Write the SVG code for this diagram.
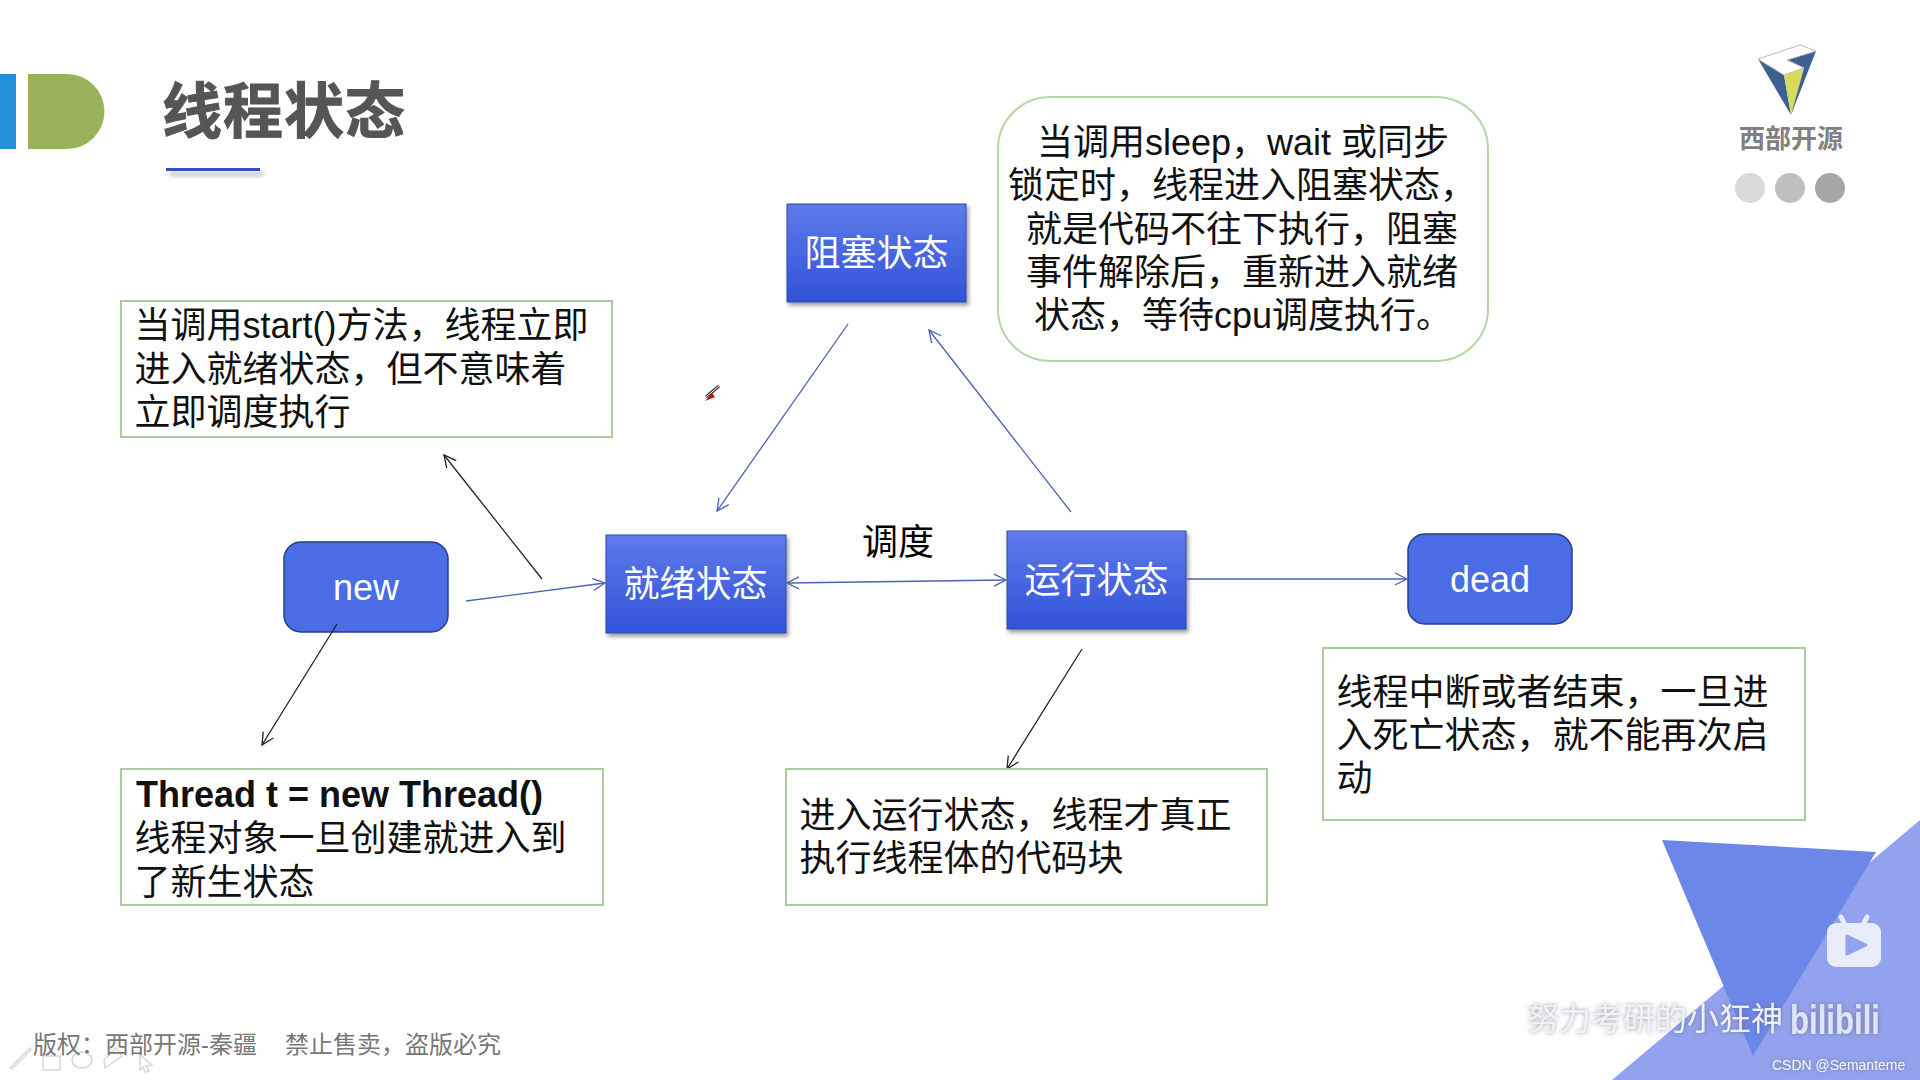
<svg xmlns="http://www.w3.org/2000/svg" width="1920" height="1080" viewBox="0 0 1920 1080">
<style>
text{font-family:"Liberation Sans","Noto Sans CJK SC",sans-serif}
.t{font-size:36px;fill:#111}
.w{font-size:36px;fill:#fff;text-anchor:middle}
.note{fill:#fff;stroke:#aacba0;stroke-width:2}
.box{fill:url(#g);stroke:#2f4aa8;stroke-width:1;filter:url(#s)}
.pill{fill:#4a6ce4;stroke:#233f85;stroke-width:1.5}
.c{fill:none;stroke:#4a62b0;stroke-width:1.3}
.k{fill:none;stroke:#222;stroke-width:1.3}
.i{fill:none;stroke:#d8d8d8;stroke-width:1.5}
</style>
<defs>
<linearGradient id="g" x1="0" y1="0" x2="0" y2="1"><stop offset="0" stop-color="#5f7aea"/><stop offset="1" stop-color="#3053d8"/></linearGradient>
<filter id="s" x="-10%" y="-10%" width="125%" height="125%"><feDropShadow dx="2" dy="3" stdDeviation="2" flood-color="#000" flood-opacity=".4"/></filter>
<filter id="b" x="-10%" y="-200%" width="120%" height="500%"><feGaussianBlur stdDeviation="2"/></filter>
<filter id="ws" x="-10%" y="-30%" width="120%" height="160%"><feDropShadow dx="0" dy="0" stdDeviation="2" flood-color="#555" flood-opacity=".6"/></filter>
<marker id="a" markerWidth="16" markerHeight="16" refX="13" refY="7" orient="auto" markerUnits="userSpaceOnUse"><path d="M1 1L13 7L1 13" fill="none" stroke="#4a62b0" stroke-width="1.3"/></marker>
<marker id="as" markerWidth="16" markerHeight="16" refX="13" refY="7" orient="auto-start-reverse" markerUnits="userSpaceOnUse"><path d="M1 1L13 7L1 13" fill="none" stroke="#4a62b0" stroke-width="1.3"/></marker>
<marker id="ak" markerWidth="16" markerHeight="16" refX="13" refY="7" orient="auto" markerUnits="userSpaceOnUse"><path d="M1 1L13 7L1 13" fill="none" stroke="#222" stroke-width="1.3"/></marker>
</defs>
<rect width="1920" height="1080" fill="#fff"/>

<g id="decor">
<rect x="0" y="74" width="16" height="75" fill="#2490dc"/>
<path d="M28 74H67A37.500 37.500 0 0 1 67 149H28Z" fill="#9bb25c"/>
<rect x="170" y="172" width="94" height="4" fill="#999" opacity=".6" filter="url(#b)"/>
<rect x="166" y="168" width="94" height="3" fill="#2f4fc4"/>
<text x="162" y="133" font-size="60" font-weight="700" style="fill:#555;stroke:#555;stroke-width:1;letter-spacing:1px">线程状态</text>
</g>

<g id="logo">
<path d="M1758 59L1784 75L1791 115Z" fill="#3f5f92"/>
<path d="M1784 75L1804 68L1791 115Z" fill="#d6db5a"/>
<path d="M1816 51L1787 60L1804 68L1791 115Z" fill="#3f5f92"/>
<path d="M1758 59L1800 45L1816 51L1787 60L1804 68L1784 75Z" fill="#fff" stroke="#bbb" stroke-width="1"/>
<text x="1791" y="148" font-size="26" font-weight="700" text-anchor="middle" style="fill:#808080">西部开源</text>
<circle cx="1750" cy="188" r="15" fill="#d9d9d9"/>
<circle cx="1790" cy="188" r="15" fill="#bfbfbf"/>
<circle cx="1830" cy="188" r="15" fill="#a6a6a6"/>
</g>

<g id="watermark-bg">
<path d="M1920 820L1612 1080H1920Z" fill="#93a2ee"/>
<path d="M1662 840L1876 852L1753 1056Z" fill="#6d87e8"/>
<path d="M1827 932a9 9 0 0 1 9-9h36a9 9 0 0 1 9 9v26a9 9 0 0 1-9 9h-36a9 9 0 0 1-9-9Z" fill="#e9ecfb"/>
<path d="M1844 923L1841 917M1864 923L1867 917" stroke="#e9ecfb" stroke-width="5" stroke-linecap="round"/>
<path d="M1847 936L1866 945L1847 954Z" fill="#93a2ee" stroke="#93a2ee" stroke-width="3" stroke-linejoin="round"/>
</g>

<g id="blocked"><rect class="box" x="787" y="204" width="179" height="98"/><text class="w" x="876.500" y="266">阻塞状态</text></g>
<g id="ready"><rect class="box" x="606" y="535" width="180" height="98"/><text class="w" x="695.500" y="597">就绪状态</text></g>
<g id="running"><rect class="box" x="1007" y="531" width="179" height="98"/><text class="w" x="1096.500" y="593">运行状态</text></g>
<g id="new"><rect class="pill" x="284" y="542" width="164" height="90" rx="17"/><text class="w" x="366" y="600">new</text></g>
<g id="dead"><rect class="pill" x="1408" y="534" width="164" height="90" rx="17"/><text class="w" x="1490" y="592">dead</text></g>

<g id="connectors">
<path class="c" d="M466 601L605 583" marker-end="url(#a)"/>
<path class="c" d="M787 583L1006 580" marker-start="url(#as)" marker-end="url(#a)"/>
<path class="c" d="M1187 579L1407 579" marker-end="url(#a)"/>
<path class="c" d="M848 324L717 511" marker-end="url(#a)"/>
<path class="c" d="M1071 512L929 330" marker-end="url(#a)"/>
<path class="k" d="M542 579L444 455" marker-end="url(#ak)"/>
<path class="k" d="M337 624L262 745" marker-end="url(#ak)"/>
<path class="k" d="M1082 649L1007 769" marker-end="url(#ak)"/>
</g>

<g id="label-schedule"><text class="t" x="862" y="555" style="fill:#000">调度</text></g>

<g id="note-blocked">
<rect x="998" y="97" width="490" height="264" rx="52" fill="#fff" stroke="#b5d6a5" stroke-width="2"/>
<text class="t" x="1037" y="155">当调用sleep，wait 或同步</text>
<text class="t" x="1008" y="198">锁定时，线程进入阻塞状态，</text>
<text class="t" x="1026" y="242">就是代码不往下执行，阻塞</text>
<text class="t" x="1026" y="285">事件解除后，重新进入就绪</text>
<text class="t" x="1034" y="328">状态，等待cpu调度执行。</text>
</g>
<g id="note-start">
<rect class="note" x="121" y="301" width="491" height="136"/>
<text class="t" x="134.500" y="338">当调用start()方法，线程立即</text>
<text class="t" x="134.500" y="382">进入就绪状态，但不意味着</text>
<text class="t" x="134.500" y="425">立即调度执行</text>
</g>
<g id="note-new">
<rect class="note" x="121" y="769" width="482" height="136"/>
<text class="t" x="136" y="807" font-weight="700">Thread t = new Thread()</text>
<text class="t" x="134.500" y="851">线程对象一旦创建就进入到</text>
<text class="t" x="134.500" y="895">了新生状态</text>
</g>
<g id="note-run">
<rect class="note" x="786" y="769" width="481" height="136"/>
<text class="t" x="799.500" y="828">进入运行状态，线程才真正</text>
<text class="t" x="799.500" y="871">执行线程体的代码块</text>
</g>
<g id="note-dead">
<rect class="note" x="1323" y="648" width="482" height="172"/>
<text class="t" x="1336.500" y="705">线程中断或者结束，一旦进</text>
<text class="t" x="1336.500" y="748">入死亡状态，就不能再次启</text>
<text class="t" x="1336.500" y="791">动</text>
</g>

<g id="pen-cursor">
<path d="M706 397L719 386" stroke="#333" stroke-width="3" fill="none"/>
<path d="M706 397L719 386" stroke="#fff" stroke-width="1" fill="none"/>
<path d="M705 401L712 393L715 397Z" fill="#c91111"/>
</g>

<g id="footer">
<path class="i" d="M10 1068L30 1048L31 1050L12 1069Z"/>
<rect class="i" x="43" y="1056" width="17" height="14"/>
<ellipse class="i" cx="82" cy="1060" rx="10" ry="8"/>
<path class="i" d="M105 1068L122 1056L116 1048L104 1060Z"/>
<path class="i" d="M140 1055L152 1065L146 1066L149 1071L145 1072L143 1067L140 1070Z"/>
<text x="33" y="1053" font-size="24" style="fill:#777">版权：西部开源-秦疆</text>
<text x="285" y="1053" font-size="24" style="fill:#777">禁止售卖，盗版必究</text>
</g>

<g id="watermark-text" filter="url(#ws)">
<text x="1527" y="1030" font-size="32" style="fill:#eef0fa">努力考研的小狂神</text>
<text x="1790" y="1034" font-size="40" font-weight="700" textLength="90" lengthAdjust="spacingAndGlyphs" style="fill:#dfe4fa">bilibili</text>
<text x="1772" y="1070" font-size="14" style="fill:#f2f3fb">CSDN @Semanteme</text>
</g>
</svg>
